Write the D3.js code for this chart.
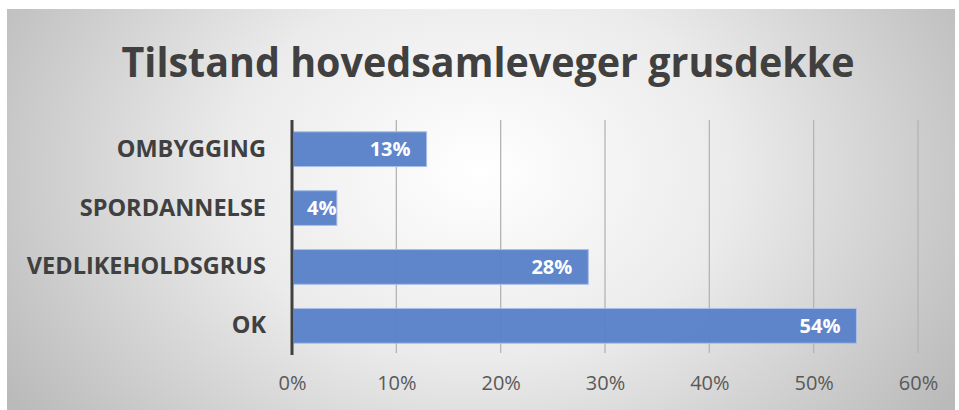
<!DOCTYPE html>
<html>
<head>
<meta charset="utf-8">
<script src="https://cdn.jsdelivr.net/npm/d3@7"></script>
<style>
  body { margin: 0; background: #fff; }
  svg { display: block; }
</style>
</head>
<body>
<div id="chart"></div>
<script>
var title = "Tilstand hovedsamleveger grusdekke";
var categories = ["OMBYGGING", "SPORDANNELSE", "VEDLIKEHOLDSGRUS", "OK"];
var values = [0.129, 0.043, 0.284, 0.541];
var tickValues = [0, 0.1, 0.2, 0.3, 0.4, 0.5, 0.6];

var W = 959, H = 410;
var margin = {top: 120, right: 41, bottom: 55, left: 292};

var svg = d3.select("#chart").append("svg")
    .attr("width", W)
    .attr("height", H);

var defs = svg.append("defs");
var grad = defs.append("radialGradient")
    .attr("id", "bg")
    .attr("gradientUnits", "userSpaceOnUse")
    .attr("cx", 480).attr("cy", 170).attr("r", 560)
    .attr("gradientTransform", "translate(480,170) scale(1,0.75) translate(-480,-170)");
grad.append("stop").attr("offset", "0%").attr("stop-color", "#ffffff");
grad.append("stop").attr("offset", "45%").attr("stop-color", "#ebebeb");
grad.append("stop").attr("offset", "100%").attr("stop-color", "#bababa");

svg.append("rect")
    .attr("x", 7).attr("y", 9)
    .attr("width", W - 11).attr("height", H - 9)
    .attr("fill", "url(#bg)");

svg.append("text")
    .attr("x", 488).attr("y", 77)
    .attr("text-anchor", "middle")
    .attr("font-family", "'Open Sans', sans-serif")
    .attr("font-weight", "bold")
    .attr("font-size", 41)
    .attr("fill", "#404040")
    .attr("textLength", 733)
    .attr("lengthAdjust", "spacingAndGlyphs")
    .text(title);

var g = svg.append("g")
    .attr("transform", "translate(" + margin.left + "," + margin.top + ")");

var x = d3.scaleLinear().domain([0, 0.6]).range([0, 626]);
var y = d3.scaleBand().domain(categories).range([0, 235]).paddingInner(0.41).paddingOuter(0.2);

// gridlines
g.selectAll(".grid")
    .data(tickValues.slice(1))
    .enter().append("line")
    .attr("class", "grid")
    .attr("x1", function(d) { return x(d); })
    .attr("x2", function(d) { return x(d); })
    .attr("y1", 0).attr("y2", 233)
    .attr("stroke", "#b4b4b4")
    .attr("stroke-width", 1.3);

// bars
g.selectAll(".bar")
    .data(values)
    .enter().append("rect")
    .attr("class", "bar")
    .attr("x", x(0) + 1.5)
    .attr("y", function(d, i) { return y(categories[i]); })
    .attr("width", function(d) { return x(d) - 1.5; })
    .attr("height", y.bandwidth())
    .attr("fill", "#5a82c9")
    .attr("fill-opacity", 0.97)
    .attr("stroke", "#a9bfe6")
    .attr("stroke-width", 1);

// data labels (inside end, pushed right when the bar is too short)
g.selectAll(".lbl")
    .data(values)
    .enter().append("text")
    .attr("class", "lbl")
    .attr("x", function(d) { return x(d) - 16; })
    .attr("y", function(d, i) { return y(categories[i]) + y.bandwidth() / 2; })
    .attr("dy", "0.36em")
    .attr("text-anchor", "end")
    .attr("font-family", "'Open Sans', sans-serif")
    .attr("font-weight", "bold")
    .attr("font-size", 20)
    .attr("fill", "#ffffff")
    .text(function(d) { return d3.format(".0%")(d); })
    .each(function(d) {
      var w = this.getComputedTextLength();
      if (x(d) - 16 - w < 15) d3.select(this).attr("x", 15 + w);
    });

// x axis labels
var xAxis = d3.axisBottom(x).tickValues(tickValues).tickFormat(d3.format(".0%")).tickSize(0).tickPadding(23);
var xg = g.append("g")
    .attr("transform", "translate(0," + 233 + ")")
    .call(xAxis);
xg.select(".domain").remove();
xg.selectAll("text")
    .attr("font-family", "'Open Sans', sans-serif")
    .attr("font-size", 20)
    .attr("fill", "#595959");

// y axis
var yAxis = d3.axisLeft(y).tickSize(0).tickPadding(26);
var yg = g.append("g").call(yAxis);
yg.select(".domain").remove();
yg.selectAll("text")
    .attr("font-family", "'Open Sans', sans-serif")
    .attr("font-weight", "bold")
    .attr("font-size", 23.5)
    .attr("fill", "#404040");

g.append("line")
    .attr("x1", 0).attr("x2", 0)
    .attr("y1", 0).attr("y2", 235)
    .attr("stroke", "#404040")
    .attr("stroke-width", 3);
</script>
</body>
</html>
